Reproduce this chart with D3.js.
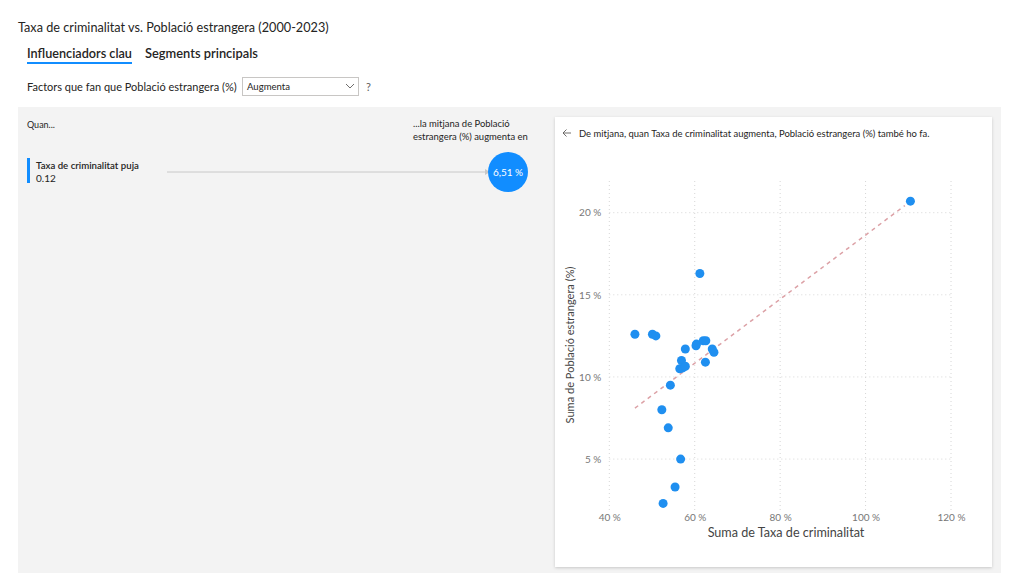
<!DOCTYPE html>
<html>
<head>
<meta charset="utf-8">
<script src="https://cdnjs.cloudflare.com/ajax/libs/d3/7.8.5/d3.min.js"></script>
<style>
  html, body { margin: 0; padding: 0; background: #fff; }
  svg { display: block; font-family: "Segoe UI", Lato, sans-serif; }
</style>
</head>
<body>
<svg id="chart" width="1024" height="583"></svg>
<script>
// ---- data ----
const title = "Taxa de criminalitat vs. Població estrangera (2000-2023)";
const tabs = ["Influenciadors clau", "Segments principals"];
const factorLabel = "Factors que fan que Població estrangera (%)";
const dropdownValue = "Augmenta";
const influencers = ["Taxa de criminalitat puja"];
const influencerThreshold = ["0.12"];
const influencerEffect = [6.51];
const cardMessage = "De mitjana, quan Taxa de criminalitat augmenta, Població estrangera (%) també ho fa.";
const xAxisTitle = "Suma de Taxa de criminalitat";
const yAxisTitle = "Suma de Població estrangera (%)";
// scatter values (%), one per year
const crimeRate = [46.0, 50.1, 50.9, 57.8, 60.3, 60.4, 62.0, 62.6, 64.1, 64.5, 62.5, 56.9,
                   56.5, 57.2, 57.8, 54.3, 52.3, 53.8, 56.7, 55.4, 52.6, 61.2, 110.5];
const foreignPop = [12.6, 12.6, 12.5, 11.7, 11.9, 12.0, 12.2, 12.2, 11.7, 11.5, 10.9, 11.0,
                    10.5, 10.55, 10.65, 9.5, 8.0, 6.9, 5.0, 3.3, 2.3, 16.3, 20.7];
const xTicks = [40, 60, 80, 100, 120];
const yTicks = [5, 10, 15, 20];
const xDomain = [40, 120];
const yDomain = [1.9, 22.05];

const blue = "#118DFF";
const svg = d3.select("#chart");

// shadow filter
const defs = svg.append("defs");
const f = defs.append("filter").attr("id", "shadow").attr("x", "-5%").attr("y", "-5%").attr("width", "110%").attr("height", "110%");
f.append("feDropShadow").attr("dx", 0).attr("dy", 1).attr("stdDeviation", 1.5).attr("flood-color", "#000").attr("flood-opacity", 0.18);

// fit helper: scale font-size so text has the given width
function fit(sel, w) {
  const n = sel.node();
  const fs = parseFloat(sel.attr("font-size"));
  const len = n.getComputedTextLength();
  if (len > 0) sel.attr("font-size", fs * w / len);
  return sel;
}

// ---- header ----
fit(svg.append("text").attr("x", 18).attr("y", 32).attr("font-size", 14).attr("fill", "#252423").text(title), 311);

const tabW = [105, 113], tabX = [27, 145];
tabs.forEach((t, i) => {
  fit(svg.append("text").attr("x", tabX[i]).attr("y", 58).attr("font-size", 13)
    .attr("font-weight", 600).attr("fill", "#252423").text(t), tabW[i]);
});
svg.append("rect").attr("x", 27).attr("y", 62).attr("width", 105).attr("height", 2).attr("fill", blue);

fit(svg.append("text").attr("x", 27).attr("y", 91).attr("font-size", 11).attr("fill", "#252423").text(factorLabel), 210);
svg.append("rect").attr("x", 242.5).attr("y", 77.5).attr("width", 116).attr("height", 18)
  .attr("fill", "#fff").attr("stroke", "#c8c6c4");
fit(svg.append("text").attr("x", 247).attr("y", 90).attr("font-size", 10).attr("fill", "#252423").text(dropdownValue), 43);
svg.append("path").attr("d", "M346,84 L350,88 L354,84").attr("fill", "none").attr("stroke", "#605e5c").attr("stroke-width", 0.9);
svg.append("text").attr("x", 366).attr("y", 91).attr("font-size", 11).attr("fill", "#605e5c").text("?");

// ---- gray panel ----
svg.append("rect").attr("x", 18).attr("y", 107).attr("width", 983).attr("height", 466).attr("fill", "#f3f3f3");

fit(svg.append("text").attr("x", 27).attr("y", 128).attr("font-size", 10).attr("fill", "#252423").text("Quan..."), 28);
const rt1 = svg.append("text").attr("x", 413).attr("y", 127).attr("font-size", 10).attr("fill", "#252423").text("...la mitjana de Població");
const rt2 = svg.append("text").attr("x", 413).attr("y", 140).attr("font-size", 10).attr("fill", "#252423").text("estrangera (%) augmenta en");
fit(rt2, 115);
rt1.attr("font-size", rt2.attr("font-size"));

influencers.forEach((name, i) => {
  const cy = 172 + i * 40;
  svg.append("rect").attr("x", 27).attr("y", cy - 14).attr("width", 3).attr("height", 25).attr("fill", blue);
  fit(svg.append("text").attr("x", 36).attr("y", cy - 3).attr("font-size", 10).attr("font-weight", 600)
    .attr("fill", "#252423").text(name), 103);
  svg.append("text").attr("x", 36).attr("y", cy + 10).attr("font-size", 10).attr("fill", "#252423").text(influencerThreshold[i]);
  svg.append("line").attr("x1", 167).attr("x2", 486).attr("y1", cy).attr("y2", cy).attr("stroke", "#c8c8c8").attr("stroke-width", 1);
  svg.append("path").attr("d", `M485,${cy - 3} L490,${cy} L485,${cy + 3} Z`).attr("fill", "#c8c8c8");
  svg.append("circle").attr("cx", 508).attr("cy", cy).attr("r", 20).attr("fill", blue);
  svg.append("text").attr("x", 508).attr("y", cy + 3.5).attr("text-anchor", "middle").attr("font-size", 10)
    .attr("fill", "#fff").text(d3.format(".2f")(influencerEffect[i]).replace(".", ",") + " %");
});

// ---- card ----
svg.append("rect").attr("x", 555).attr("y", 117).attr("width", 437).attr("height", 450).attr("fill", "#fff").attr("filter", "url(#shadow)");
svg.append("path").attr("d", "M571,133 L563,133 M566.5,129.5 L563,133 L566.5,136.5").attr("fill", "none").attr("stroke", "#605e5c").attr("stroke-width", 0.9);
fit(svg.append("text").attr("x", 579).attr("y", 136.5).attr("font-size", 10).attr("fill", "#252423").text(cardMessage), 351);

// ---- scatter ----
const x = d3.scaleLinear().domain(xDomain).range([609.3, 951]);
const y = d3.scaleLinear().domain(yDomain).range([510, 179]);

const grid = svg.append("g").attr("stroke", "#d6d6d6").attr("stroke-dasharray", "1,3").attr("stroke-width", 1);
xTicks.forEach(t => grid.append("line").attr("x1", x(t)).attr("x2", x(t)).attr("y1", y(yDomain[0])).attr("y2", y(yDomain[1])));
yTicks.forEach(t => grid.append("line").attr("y1", y(t)).attr("y2", y(t)).attr("x1", x(xDomain[0])).attr("x2", x(xDomain[1])));

const xAxis = svg.append("g").attr("transform", `translate(0,${510})`)
  .call(d3.axisBottom(x).tickValues(xTicks).tickFormat(d => d + " %").tickSize(0).tickPadding(4));
const yAxis = svg.append("g").attr("transform", `translate(${609.3},0)`)
  .call(d3.axisLeft(y).tickValues(yTicks).tickFormat(d => d + " %").tickSize(0).tickPadding(8));
[xAxis, yAxis].forEach(a => {
  a.select(".domain").remove();
  a.selectAll("text").attr("fill", "#777").attr("font-size", 10).attr("font-family", "Lato, sans-serif");
});

fit(svg.append("text").attr("x", 786).attr("y", 537).attr("text-anchor", "middle").attr("font-size", 12)
  .attr("fill", "#444").text(xAxisTitle), 157);
fit(svg.append("text").attr("transform", `translate(574,${345}) rotate(-90)`).attr("text-anchor", "middle")
  .attr("font-size", 12).attr("fill", "#444").text(yAxisTitle), 157);

// regression trend line
const pts = crimeRate.map((v, i) => [v, foreignPop[i]]);
const mx = d3.mean(pts, d => d[0]), my = d3.mean(pts, d => d[1]);
const slope = d3.sum(pts, d => (d[0] - mx) * (d[1] - my)) / d3.sum(pts, d => (d[0] - mx) ** 2);
const ic = my - slope * mx;
const [x0, x1] = d3.extent(crimeRate);
svg.append("line").attr("x1", x(x0)).attr("y1", y(ic + slope * x0)).attr("x2", x(x1 - 1.3)).attr("y2", y(ic + slope * (x1 - 1.3)))
  .attr("stroke", "#dca1a6").attr("stroke-width", 1.5).attr("stroke-dasharray", "4,4");

svg.append("g").selectAll("circle").data(pts).join("circle")
  .attr("cx", d => x(d[0])).attr("cy", d => y(d[1])).attr("r", 4.5).attr("fill", "#1f8ff0");
</script>
</body>
</html>
